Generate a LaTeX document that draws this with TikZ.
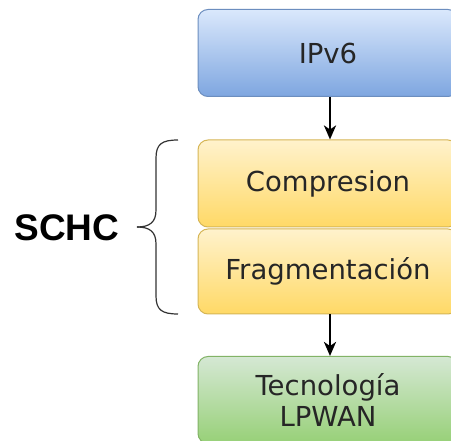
\documentclass[tikz,border=0pt]{standalone}
\usepackage{fontspec}
\setmainfont{DejaVu Sans}
\newfontfamily\bracefont{Liberation Sans}
\usetikzlibrary{arrows.meta}

\definecolor{bluetop}{HTML}{DAE8FC}
\definecolor{bluebot}{HTML}{7EA6E0}
\definecolor{blueline}{HTML}{6C8EBF}
\definecolor{yeltop}{HTML}{FFF2CC}
\definecolor{yelbot}{HTML}{FFD966}
\definecolor{yelline}{HTML}{D6B656}
\definecolor{grntop}{HTML}{D5E8D4}
\definecolor{grnbot}{HTML}{97D077}
\definecolor{grnline}{HTML}{82B366}

\tikzset{
  layer/.style={draw, line width=1pt, rounded corners=10pt, minimum width=260pt,
    minimum height=87pt, inner sep=0pt, align=center, text=black!85,
    font=\fontsize{27.5}{31}\selectfont},
  bluelayer/.style={layer, draw=blueline, top color=bluetop, bottom color=bluebot},
  yellayer/.style={layer, draw=yelline, top color=yeltop, bottom color=yelbot},
  grnlayer/.style={layer, draw=grnline, top color=grntop, bottom color=grnbot},
  flow/.style={-{Stealth[length=14pt,width=12pt,inset=4pt]}, line width=2.6pt}
}

\begin{document}
\begin{tikzpicture}[x=1pt,y=-1pt]
        \useasboundingbox (0,0) rectangle (451,441);
        \clip (0,0) rectangle (451,441);
        \fill[white] (0,0) rectangle (451,441);
        \node[bluelayer] (ipv6) at (328,53) {IPv6};
        \node[yellayer] (comp) at (328,183.5) {Compresion};
        \node[yellayer, minimum height=85pt] (frag) at (328,271.5) {Fragmentación};
        \node[grnlayer] (lpwan) at (328,400) {Tecnología\\LPWAN};
        \draw[flow] (ipv6.south -| 330,0) -- (comp.north -| 330,0);
        \draw[flow] (frag.south -| 330,0) -- (lpwan.north -| 330,0);
        \coordinate (btop) at (178,140);
        \coordinate (bbot) at (178,314);
        \coordinate (btip) at (137,227);
        \draw[line width=1.2pt, black!80] (btop) .. controls (162,140) and (156,144) .. (156,158)
            -- (156,210) .. controls (156,222) and (150,227) .. (btip);
        \draw[line width=1.2pt, black!80] (bbot) .. controls (162,314) and (156,310) .. (156,296)
            -- (156,244) .. controls (156,232) and (150,227) .. (btip);
        \node[font=\bracefont\bfseries\fontsize{37}{40}\selectfont] (schc) at (67,228) {SCHC};
    \end{tikzpicture}
\end{document}
